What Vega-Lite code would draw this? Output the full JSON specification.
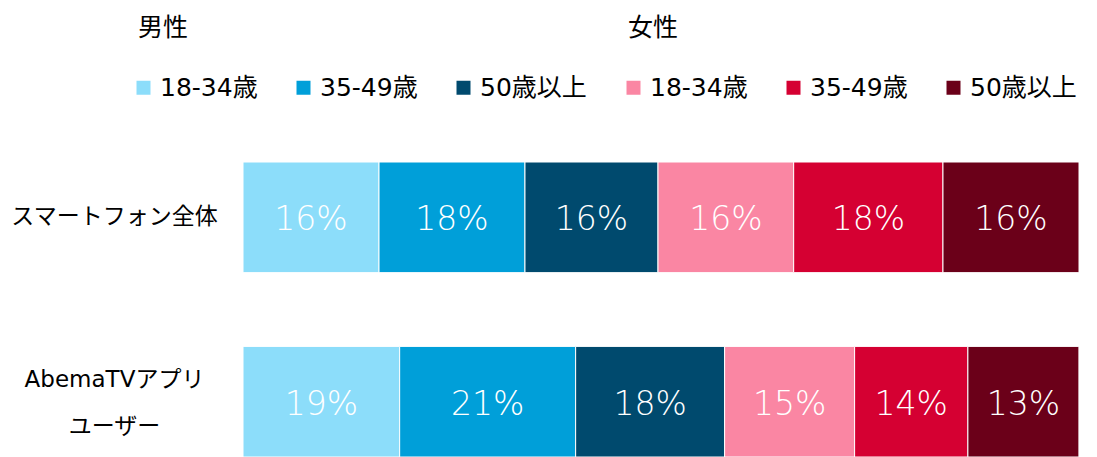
{
  "$schema": "https://vega.github.io/schema/vega-lite/v6.json",
  "width": 836,
  "height": 295,
  "autosize": {"type": "none"},
  "padding": {"left": 243, "top": 162, "right": 18, "bottom": 0},
  "background": "white",
  "config": {"view": {"stroke": null}, "font": "DejaVu Sans, Noto Sans CJK JP"},
  "data": {"values": [
    {"row": "スマートフォン全体", "gender": "男性", "age": "18-34歳", "order": 1, "value": 16.27, "label": "16%"},
    {"row": "スマートフォン全体", "gender": "男性", "age": "35-49歳", "order": 2, "value": 17.46, "label": "18%"},
    {"row": "スマートフォン全体", "gender": "男性", "age": "50歳以上", "order": 3, "value": 15.91, "label": "16%"},
    {"row": "スマートフォン全体", "gender": "女性", "age": "18-34歳", "order": 4, "value": 16.23, "label": "16%"},
    {"row": "スマートフォン全体", "gender": "女性", "age": "35-49歳", "order": 5, "value": 17.86, "label": "18%"},
    {"row": "スマートフォン全体", "gender": "女性", "age": "50歳以上", "order": 6, "value": 16.27, "label": "16%"},
    {"row": "AbemaTVアプリユーザー", "gender": "男性", "age": "18-34歳", "order": 1, "value": 18.74, "label": "19%"},
    {"row": "AbemaTVアプリユーザー", "gender": "男性", "age": "35-49歳", "order": 2, "value": 21.05, "label": "21%"},
    {"row": "AbemaTVアプリユーザー", "gender": "男性", "age": "50歳以上", "order": 3, "value": 17.82, "label": "18%"},
    {"row": "AbemaTVアプリユーザー", "gender": "女性", "age": "18-34歳", "order": 4, "value": 15.55, "label": "15%"},
    {"row": "AbemaTVアプリユーザー", "gender": "女性", "age": "35-49歳", "order": 5, "value": 13.55, "label": "14%"},
    {"row": "AbemaTVアプリユーザー", "gender": "女性", "age": "50歳以上", "order": 6, "value": 13.28, "label": "13%"}
  ]},
  "transform": [
    {"stack": "value", "groupby": ["row"], "sort": [{"field": "order", "order": "ascending"}], "as": ["x0", "x1"]}
  ],
  "encoding": {
    "y": {
      "field": "row",
      "type": "nominal",
      "sort": null,
      "scale": {"paddingInner": 0.4, "paddingOuter": 0},
      "axis": {
        "title": null,
        "domain": false,
        "ticks": false,
        "tickSize": 0,
        "labelFontSize": 23,
        "labelColor": "#000000",
        "labelAlign": "center",
        "labelPadding": 129,
        "labelLineHeight": 47,
        "labelLimit": 300,
        "labelOffset": {"condition": {"test": "datum.value == 'AbemaTVアプリユーザー'", "value": -22}, "value": 0},
        "labelExpr": "datum.value == 'AbemaTVアプリユーザー' ? ['AbemaTVアプリ', 'ユーザー'] : datum.label"
      }
    }
  },
  "layer": [
    {
      "transform": [{"filter": "datum.gender == '男性'"}],
      "mark": {"type": "bar", "stroke": "white", "strokeWidth": 1},
      "encoding": {
        "x": {"field": "x0", "type": "quantitative", "scale": {"domain": [0, 100], "nice": false}, "axis": null},
        "x2": {"field": "x1"},
        "color": {
          "field": "age",
          "type": "nominal",
          "scale": {"domain": ["18-34歳", "35-49歳", "50歳以上"], "range": ["#8CDDFA", "#009FD9", "#004A6E"]},
          "legend": {
            "title": "男性", "orient": "none", "legendX": -105, "legendY": -146,
            "direction": "horizontal", "columns": 3, "symbolType": "square", "symbolSize": 196,
            "symbolStrokeWidth": 0, "symbolOffset": -7, "labelFontSize": 25, "titleFontSize": 25, "titleFontWeight": "normal",
            "columnPadding": 38, "labelOffset": 4, "titlePadding": 34, "padding": 0, "titleOrient": "top",
            "titleAnchor": "start", "labelColor": "#000000", "titleColor": "#000000", "labelLimit": 300
          }
        }
      }
    },
    {
      "transform": [{"filter": "datum.gender == '女性'"}],
      "mark": {"type": "bar", "stroke": "white", "strokeWidth": 1},
      "encoding": {
        "x": {"field": "x0", "type": "quantitative"},
        "x2": {"field": "x1"},
        "color": {
          "field": "age",
          "type": "nominal",
          "scale": {"domain": ["18-34歳", "35-49歳", "50歳以上"], "range": ["#FA86A3", "#D50032", "#6B0019"]},
          "legend": {
            "title": "女性", "orient": "none", "legendX": 385, "legendY": -146,
            "direction": "horizontal", "columns": 3, "symbolType": "square", "symbolSize": 196,
            "symbolStrokeWidth": 0, "symbolOffset": -7, "labelFontSize": 25, "titleFontSize": 25, "titleFontWeight": "normal",
            "columnPadding": 38, "labelOffset": 4, "titlePadding": 34, "padding": 0, "titleOrient": "top",
            "titleAnchor": "start", "labelColor": "#000000", "titleColor": "#000000", "labelLimit": 300
          }
        }
      }
    },
    {
      "transform": [{"fold": ["x0", "x1"], "as": ["k", "v"]}],
      "mark": {"type": "text", "color": "white", "fontSize": 33, "fontWeight": 200, "dy": 3},
      "encoding": {
        "x": {"aggregate": "mean", "field": "v", "type": "quantitative"},
        "text": {"field": "label"},
        "detail": {"field": "order"}
      }
    }
  ],
  "resolve": {"scale": {"color": "independent"}}
}
